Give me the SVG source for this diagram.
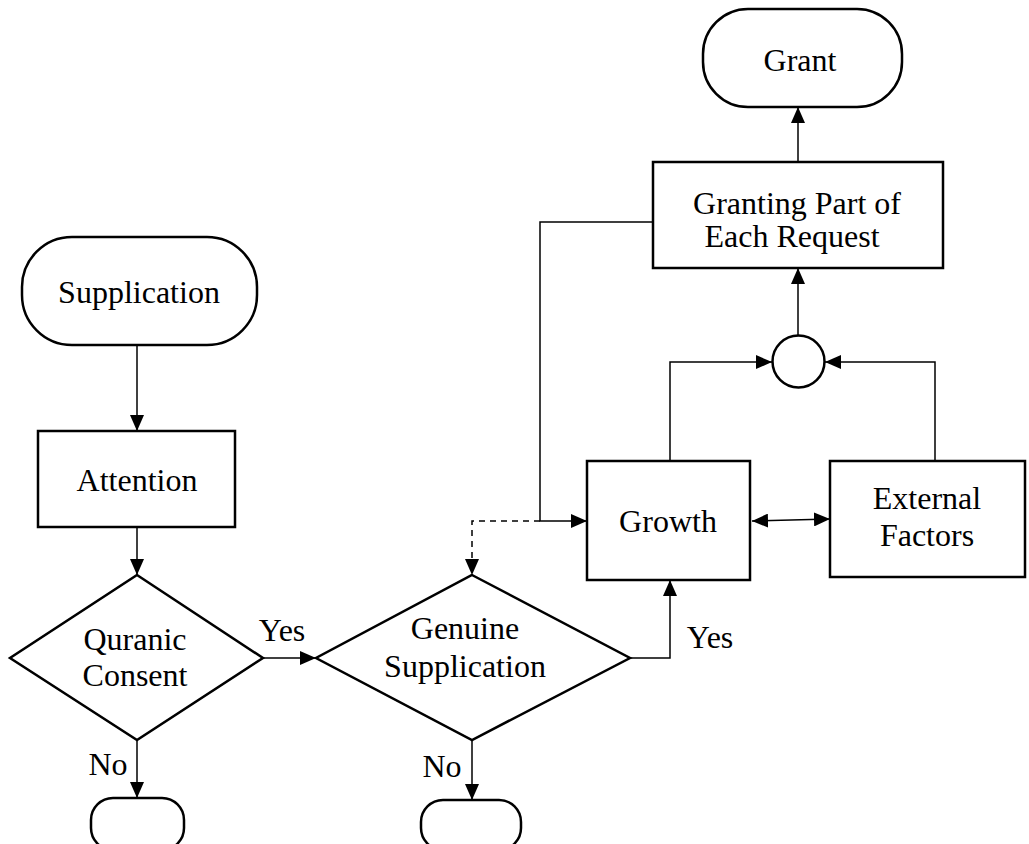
<svg xmlns="http://www.w3.org/2000/svg" width="1029" height="844" viewBox="0 0 1029 844">
<style>
.s{fill:#fff;stroke:#000;stroke-width:2.5}
.c{fill:none;stroke:#000;stroke-width:1.5}
.d{stroke-dasharray:6,5}
text{font-family:"Liberation Serif","Times New Roman",serif;font-size:32px;fill:#000;text-anchor:middle}
</style>
<defs>
<marker id="ab" viewBox="0 0 16 14" refX="16" refY="7" markerWidth="16" markerHeight="14" markerUnits="userSpaceOnUse" orient="auto-start-reverse">
<path d="M0,0L16,7L0,14z" fill="#000"/>
</marker>
</defs>
<g id="connectors">
<path class="c" d="M137,345V431" marker-end="url(#ab)"/>
<path class="c" d="M137,527V575" marker-end="url(#ab)"/>
<path class="c" d="M263,658H316" marker-end="url(#ab)"/>
<path class="c" d="M137,740V798" marker-end="url(#ab)"/>
<path class="c" d="M472,740V800" marker-end="url(#ab)"/>
<path class="c" d="M630,658H670V580" marker-end="url(#ab)"/>
<path class="c d" d="M540,521H472V575" marker-end="url(#ab)"/>
<path class="c" d="M653,222H540V521H587" marker-end="url(#ab)"/>
<path class="c" d="M752,521L830,519" marker-start="url(#ab)" marker-end="url(#ab)"/>
<path class="c" d="M670,461V362H772" marker-end="url(#ab)"/>
<path class="c" d="M935,461V362H825" marker-end="url(#ab)"/>
<path class="c" d="M798,336V268" marker-end="url(#ab)"/>
<path class="c" d="M798,162V107" marker-end="url(#ab)"/>
</g>
<g id="supplication"><rect class="s" x="22" y="237" width="235" height="108" rx="50"/><text x="139" y="303">Supplication</text></g>
<g id="attention"><rect class="s" x="38" y="431" width="197" height="96"/><text x="137" y="491">Attention</text></g>
<g id="quranic"><path class="s" d="M137,575L263,658L137,740L10,658Z"/><text x="135" y="650">Quranic</text><text x="135" y="686">Consent</text></g>
<g id="genuine"><path class="s" d="M472,575L630,658L472,740L316,658Z"/><text x="465" y="639">Genuine</text><text x="465" y="677">Supplication</text></g>
<g id="end1"><rect class="s" x="91" y="798" width="93" height="52" rx="22"/></g>
<g id="end2"><rect class="s" x="421" y="800" width="100" height="50" rx="22"/></g>
<g id="growth"><rect class="s" x="587" y="461" width="163" height="119"/><text x="668" y="532">Growth</text></g>
<g id="external"><rect class="s" x="830" y="461" width="195" height="116"/><text x="927" y="509">External</text><text x="927" y="546">Factors</text></g>
<g id="junction"><circle class="s" cx="798.5" cy="361.5" r="26"/></g>
<g id="granting"><rect class="s" x="653" y="162" width="290" height="106"/><text x="797" y="214">Granting Part of</text><text x="792" y="247">Each Request</text></g>
<g id="grant"><rect class="s" x="703" y="9" width="199" height="98" rx="45"/><text x="800" y="71">Grant</text></g>
<g id="labels"><text x="282" y="641">Yes</text><text x="108" y="775">No</text><text x="442" y="777">No</text><text x="710" y="648">Yes</text></g>
</svg>
